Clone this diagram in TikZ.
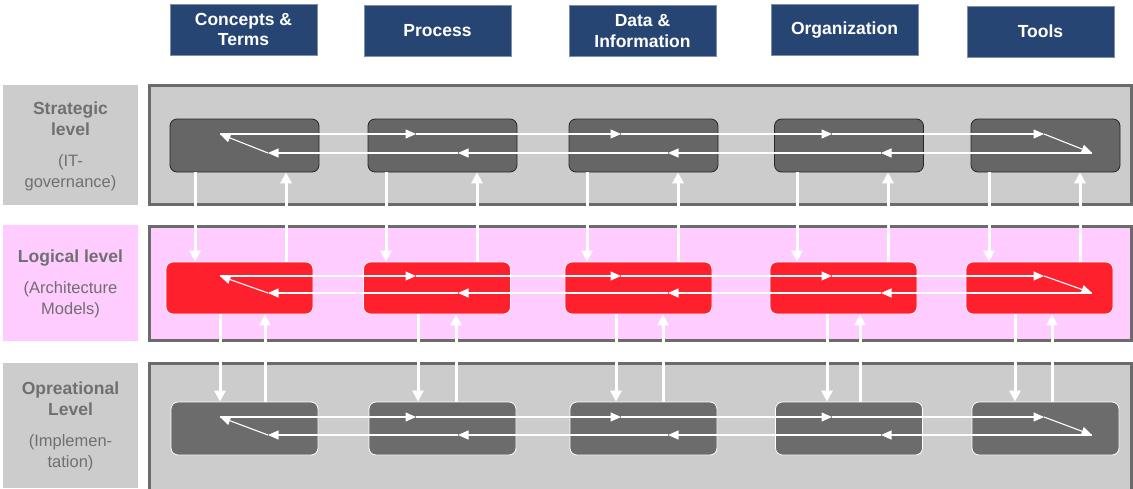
\documentclass[tikz,border=0pt]{standalone}
\usepackage{fontspec}
\setmainfont{Liberation Sans}
\usetikzlibrary{arrows.meta,calc}
\definecolor{hdr}{RGB}{39,69,115}
\definecolor{bandgray}{RGB}{204,204,204}
\definecolor{bandpink}{RGB}{255,204,255}
\definecolor{bandline}{RGB}{107,107,107}
\definecolor{boxgray}{RGB}{102,102,102}
\definecolor{boxgrayop}{RGB}{108,108,108}
\definecolor{boxred}{RGB}{255,32,45}
\definecolor{lbltext}{RGB}{112,112,112}
\newcommand{\lblbold}{\fontsize{17.5}{21}\selectfont\bfseries}
\newcommand{\lblnorm}{\fontsize{16.5}{21}\selectfont\mdseries}
\begin{document}
\begin{tikzpicture}[x=1pt,y=-1pt,
  hdrbox/.style={fill=hdr,draw=hdr!60!white,line width=0.6pt,minimum width=147pt,minimum height=51pt,inner sep=0pt,align=center,text=white,font=\fontsize{17.5}{20.5}\selectfont\bfseries},
  band/.style={draw=bandline,line width=3pt},
  lblbox/.style={inner sep=0pt,minimum width=135pt,align=center,text=lbltext,font=\fontsize{16}{21}\selectfont},
  sbox/.style={fill=boxgray,draw=black!85,line width=0.8pt,rounded corners=7pt,minimum width=149pt,minimum height=53pt,inner sep=0pt},
  lbox/.style={fill=boxred,draw=white,line width=0.8pt,rounded corners=7pt,minimum width=147pt,minimum height=52pt,inner sep=0pt},
  obox/.style={fill=boxgrayop,draw=white,line width=0.8pt,rounded corners=7pt,minimum width=147pt,minimum height=53pt,inner sep=0pt},
  harrow/.style={draw=white,line width=1.1pt,-{Triangle[length=10.5pt,width=9pt]}},
  varrow/.style={draw=white,line width=3pt,-{Triangle[length=11pt,width=11pt]}}
]
\useasboundingbox (0,0) rectangle (1133,488);

% header boxes
\node[hdrbox] (h1) at (243.5,29.5) {Concepts \&\\Terms};
\node[hdrbox] (h2) at (437.5,30.5) {Process};
\node[hdrbox] (h3) at (642.5,31) {Data \&\\Information};
\node[hdrbox] (h4) at (844.5,30) {Organization};
\node[hdrbox] (h5) at (1040.5,31.5) {Tools};

% left labels
\fill[bandgray] (3,85) rectangle (138,205);
\fill[bandpink] (3,225) rectangle (138,341);
\fill[bandgray] (3,363) rectangle (138,488);
\node[lblbox] (lab1) at (70.5,146) {\lblbold Strategic\\\lblbold level\\[10pt]\lblnorm (IT-\\\lblnorm governance)};
\node[lblbox] (lab2) at (70.5,284) {\lblbold Logical level\\[10pt]\lblnorm (Architecture\\\lblnorm Models)};
\node[lblbox] (lab3) at (70.5,426) {\lblbold Opreational\\\lblbold Level\\[10pt]\lblnorm (Implemen-\\\lblnorm tation)};

% bands
\draw[band,fill=bandgray] (149.5,85.5) rectangle (1131.5,204.5);
\draw[band,fill=bandpink] (149.5,226.5) rectangle (1131.5,340.5);
\draw[band,fill=bandgray] (149.5,363.5) rectangle (1131.5,492);

% boxes
\node[sbox] (s1) at (244.5,145.5) {};
\node[sbox] (s2) at (442.5,145.5) {};
\node[sbox] (s3) at (643.5,145.5) {};
\node[sbox] (s4) at (849,145.5) {};
\node[sbox] (s5) at (1045.5,145.5) {};

\node[lbox] (l1) at (239.5,288) {};
\node[lbox] (l2) at (437,288) {};
\node[lbox] (l3) at (638.5,288) {};
\node[lbox] (l4) at (843.5,288) {};
\node[lbox] (l5) at (1039.5,288) {};

\node[obox] (o1) at (244.5,428.5) {};
\node[obox] (o2) at (442.5,428.5) {};
\node[obox] (o3) at (643.5,428.5) {};
\node[obox] (o4) at (849,428.5) {};
\node[obox] (o5) at (1045.5,428.5) {};

% vertical arrows strategic <-> logical
\foreach \i/\xd/\xu in {1/195/286,2/386/477,3/587/678,4/797/888,5/989/1080}{
  \draw[varrow] (s\i.south -| \xd,0) -- (l\i.north -| \xd,0);
  \draw[varrow] (l\i.north -| \xu,0) -- (s\i.south -| \xu,0);
}
% vertical arrows logical <-> operational
\foreach \i/\xd/\xu in {1/220/265,2/418/456,3/616/663,4/827/860,5/1015/1052}{
  \draw[varrow] (l\i.south -| \xd,0) -- (o\i.north -| \xd,0);
  \draw[varrow] (o\i.north -| \xu,0) -- (l\i.south -| \xu,0);
}

% horizontal loops
\foreach \r/\yt/\yb in {s/134/153,l/276/293,o/417/435}{
  \coordinate (\r t0) at (220,\yt);
  \coordinate (\r t1) at (416,\yt);
  \coordinate (\r t2) at (621,\yt);
  \coordinate (\r t3) at (832,\yt);
  \coordinate (\r t4) at (1044,\yt);
  \coordinate (\r b0) at (1092,\yb);
  \coordinate (\r b1) at (881,\yb);
  \coordinate (\r b2) at (668,\yb);
  \coordinate (\r b3) at (458,\yb);
  \coordinate (\r b4) at (268,\yb);
  \draw[harrow] (\r t0) -- (\r t1);
  \draw[harrow] (\r t1) -- (\r t2);
  \draw[harrow] (\r t2) -- (\r t3);
  \draw[harrow] (\r t3) -- (\r t4);
  \draw[harrow] (\r t4) -- (\r b0);
  \draw[harrow] (\r b0) -- (\r b1);
  \draw[harrow] (\r b1) -- (\r b2);
  \draw[harrow] (\r b2) -- (\r b3);
  \draw[harrow] (\r b3) -- (\r b4);
  \draw[harrow] (\r b4) -- (\r t0);
}
\end{tikzpicture}
\end{document}
